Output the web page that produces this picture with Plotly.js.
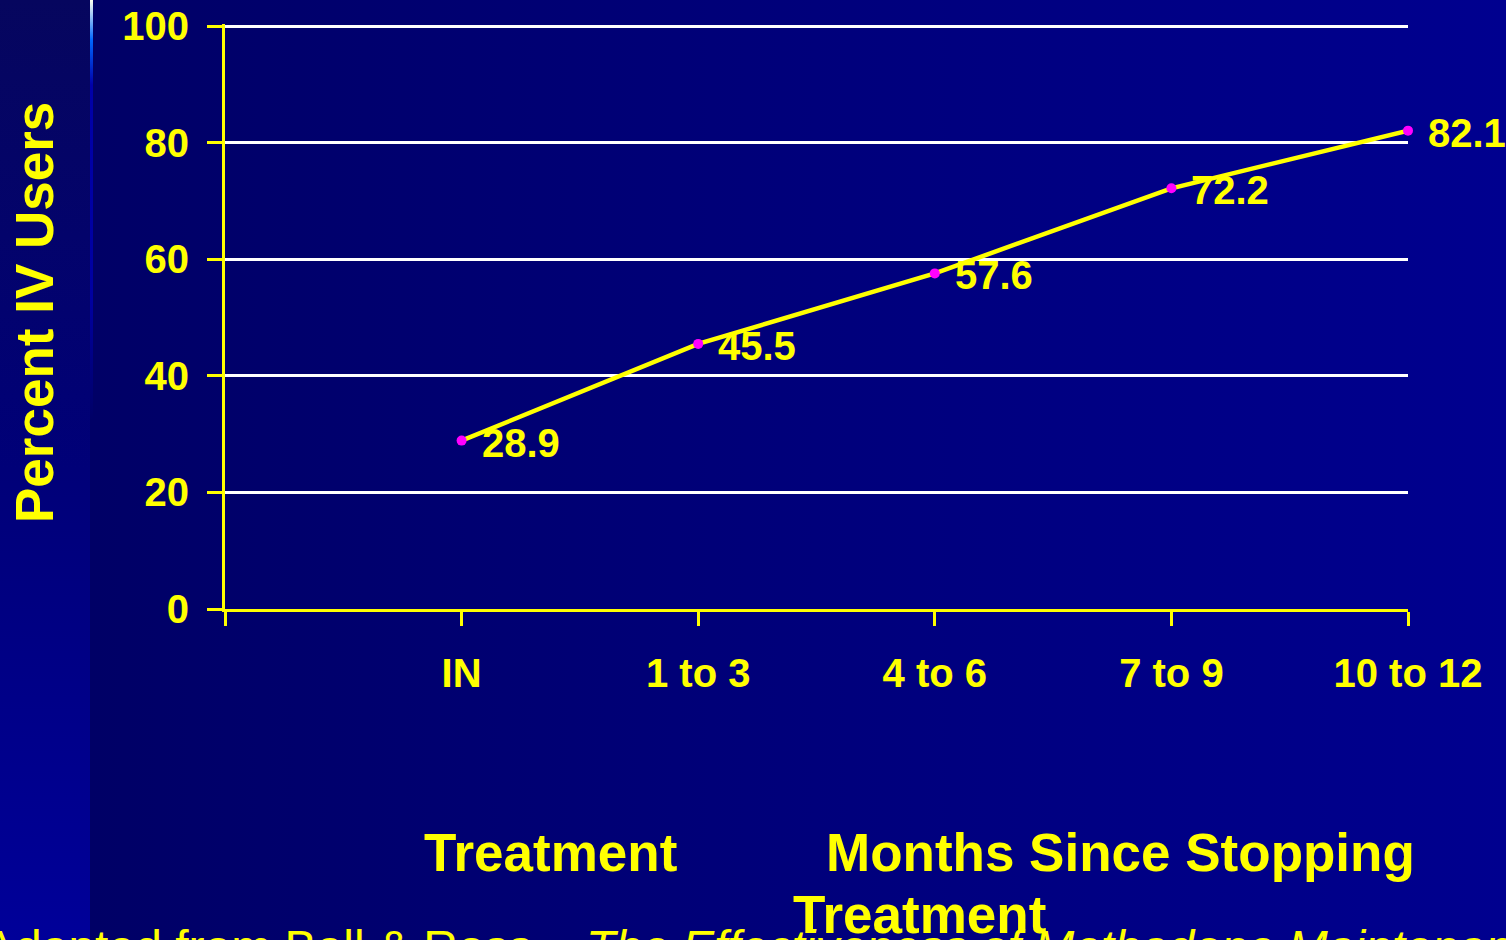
<!DOCTYPE html>
<html>
<head>
<meta charset="utf-8">
<script src="https://cdn.plot.ly/plotly-3.0.1.min.js"></script>
<style>
  html, body { margin:0; padding:0; width:1506px; height:940px; overflow:hidden; }
  body { background: linear-gradient(to right, #000064 0px, #000066 90px, #00008f 1506px); position:relative; }
  #strip { position:absolute; left:0; top:0; width:90px; height:940px;
           background: linear-gradient(to bottom, #06065e 0%, #000078 50%, #000099 100%); }
  #vline { position:absolute; left:90px; top:0; width:3px; height:940px;
           background: linear-gradient(to bottom, #ffffee 0px, #0066ff 40px, #0000a8 85px, #0000a0 300px, rgba(0,0,120,0) 420px); }
  #chart { position:absolute; left:0; top:0; width:1506px; height:940px; }
</style>
</head>
<body>
<div id="strip"></div>
<div id="vline"></div>
<div id="chart"></div>
<script>
const categories = ["IN", "1 to 3", "4 to 6", "7 to 9", "10 to 12"];
const percentIV = [28.9, 45.5, 57.6, 72.2, 82.1];
const yTicks = [0, 20, 40, 60, 80, 100];

const xIdx = categories.map((c, i) => i);
const FONT = "Liberation Sans, Arial, Helvetica, sans-serif";
const YEL = "#ffff00";

const trace = {
  x: xIdx,
  y: percentIV,
  type: "scatter",
  mode: "lines+markers",
  line: { color: YEL, width: 4.5 },
  marker: { color: "#ff00ff", size: 10 },
  cliponaxis: false,
  hoverinfo: "skip"
};

const W = 1506, H = 940, L = 225, R = 98, T = 24, B = 331;
const pw = W - L - R, ph = H - T - B;
const px = (p) => (p - L) / pw;
const py = (p) => (H - B - p) / ph;

const anns = percentIV.map((v, i) => ({
  x: i, y: v, xref: "x", yref: "y",
  text: "<b>" + v.toFixed(1) + "</b>",
  showarrow: false, xanchor: "left", yanchor: "middle",
  xshift: 18, yshift: -2,
  font: { family: FONT, size: 40, color: YEL }
}));

anns.push({
  xref: "paper", yref: "paper", x: px(34), y: py(313),
  xanchor: "center", yanchor: "middle", textangle: -90,
  text: "<b>Percent IV Users</b>", showarrow: false,
  font: { family: FONT, size: 53, color: YEL }
});
anns.push({
  xref: "paper", yref: "paper", x: px(550), y: py(852),
  xanchor: "center", yanchor: "middle",
  text: "<b>Treatment</b>", showarrow: false,
  font: { family: FONT, size: 53, color: YEL }
});
anns.push({
  xref: "paper", yref: "paper", x: px(1120), y: py(852),
  xanchor: "center", yanchor: "middle",
  text: "<b>Months Since Stopping</b>", showarrow: false,
  font: { family: FONT, size: 53, color: YEL }
});
anns.push({
  xref: "paper", yref: "paper", x: px(919), y: py(914),
  xanchor: "center", yanchor: "middle",
  text: "<b>Treatment</b>", showarrow: false,
  font: { family: FONT, size: 53, color: YEL }
});
anns.push({
  xref: "paper", yref: "paper", x: px(-19), y: py(947),
  xanchor: "left", yanchor: "middle",
  text: "Adapted from Ball &amp; Ross \u2013 <i>The Effectiveness of Methadone Maintenance Treatment</i>",
  showarrow: false,
  font: { family: FONT, size: 48, color: YEL }
});

const layout = {
  width: W, height: H,
  margin: { l: L, r: R, t: T, b: B, pad: 0 },
  paper_bgcolor: "rgba(0,0,0,0)",
  plot_bgcolor: "rgba(0,0,0,0)",
  showlegend: false,
  xaxis: {
    range: [-1, 4],
    tickmode: "array",
    tickvals: [-1].concat(xIdx),
    ticktext: [""].concat(categories.map(c => "<b>" + c + "</b>")),
    showgrid: false, zeroline: false,
    showline: true, linecolor: YEL, linewidth: 3,
    ticks: "outside", ticklen: 14, tickwidth: 3, tickcolor: YEL,
    tickfont: { family: FONT, size: 40, color: YEL },
    ticklabelstandoff: 13,
    fixedrange: true
  },
  yaxis: {
    range: [0, 100.4],
    tickmode: "array",
    tickvals: yTicks,
    ticktext: yTicks.map(t => "<b>" + t + "</b>"),
    showgrid: true, gridcolor: "#ffffff", gridwidth: 3,
    zeroline: false,
    showline: true, linecolor: YEL, linewidth: 3,
    ticks: "outside", ticklen: 15, tickwidth: 3, tickcolor: YEL,
    tickfont: { family: FONT, size: 40, color: YEL },
    ticklabelstandoff: 10,
    fixedrange: true
  },
  annotations: anns
};

Plotly.newPlot("chart", [trace], layout, { displayModeBar: false, staticPlot: true });
</script>
</body>
</html>
